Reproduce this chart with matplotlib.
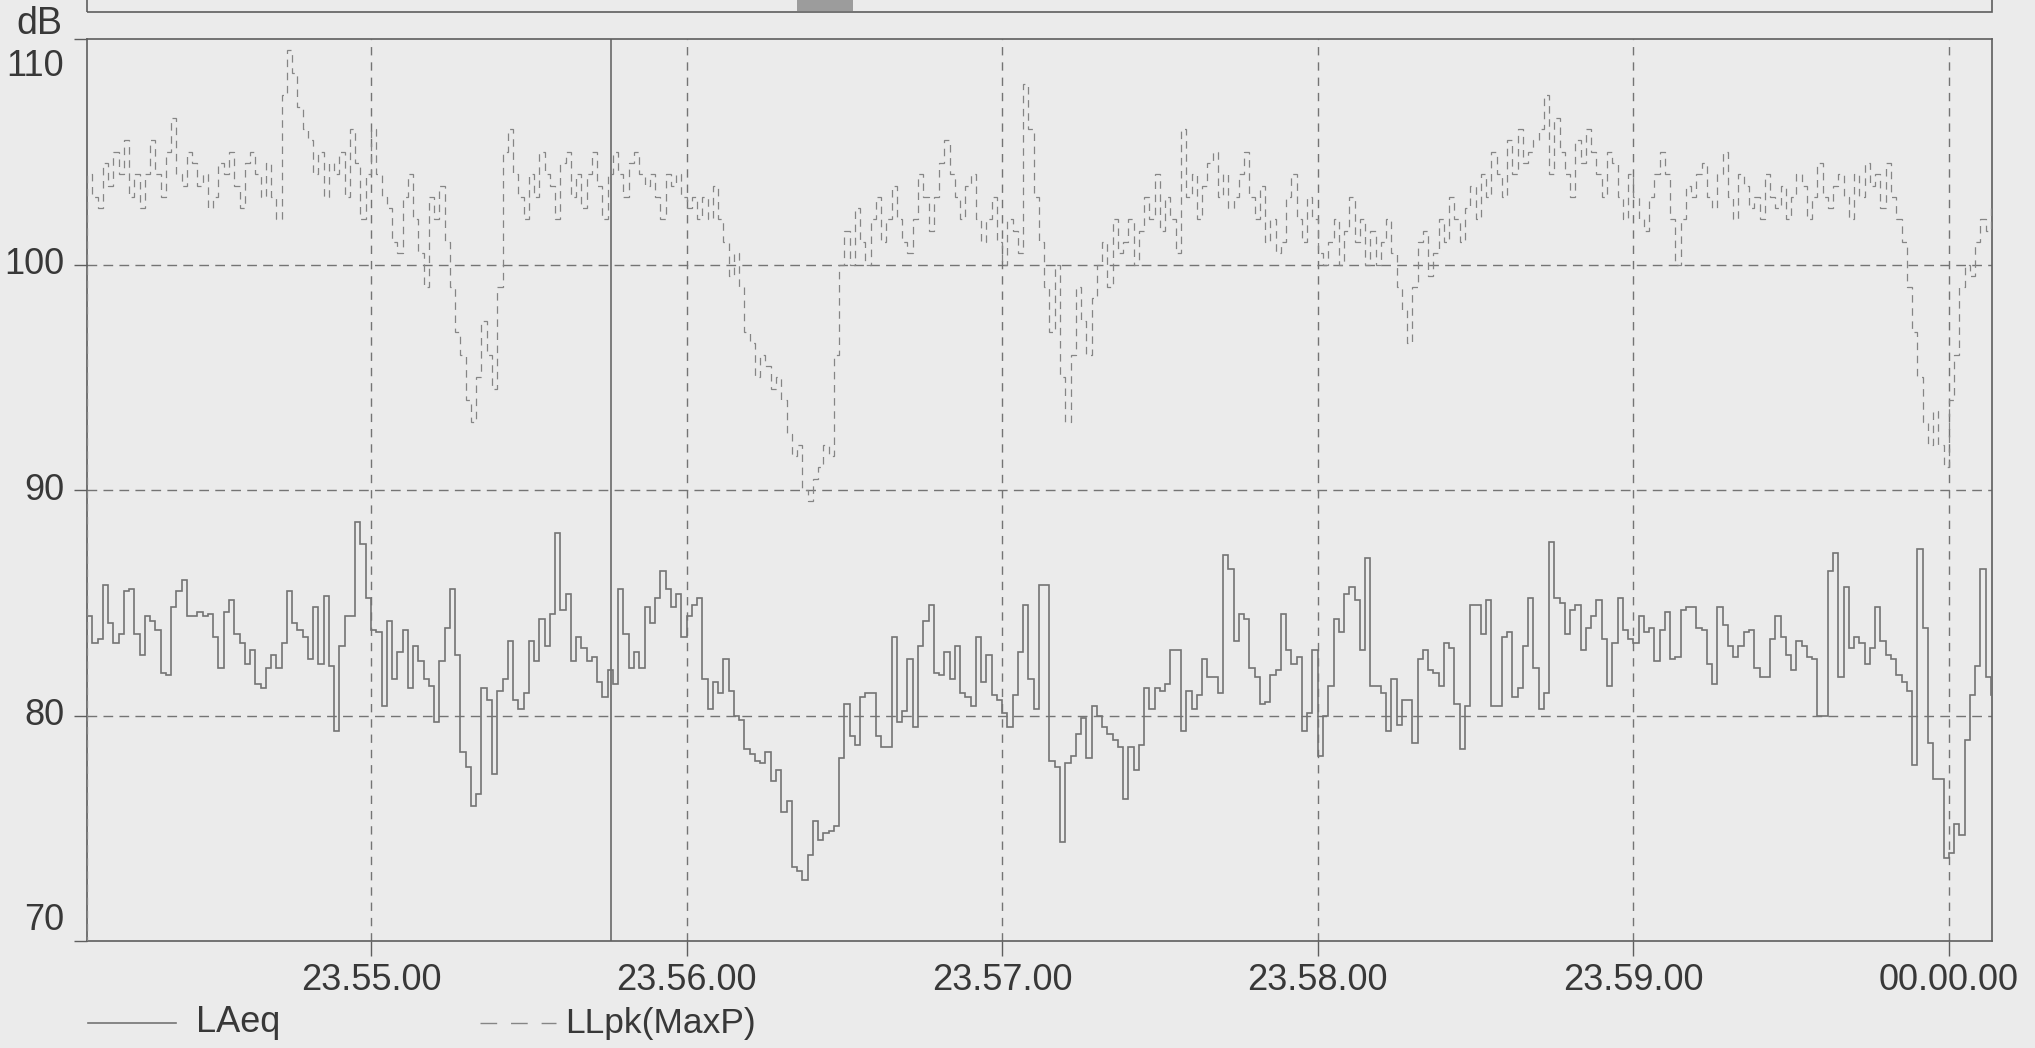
import numpy as np
import matplotlib.pyplot as plt
import matplotlib.transforms as mtransforms
from matplotlib.lines import Line2D
from matplotlib.patches import Rectangle

plt.rcParams['font.family'] = ['Liberation Sans', 'DejaVu Sans']

# one value per second, first sample at 23.54.06 (6 s after 23.54.00)
start_s = 6
end_s = 368.2

laeq = [
    84.4, 83.2, 83.4, 85.8, 84.1, 83.2, 83.6, 85.5, 85.6, 83.6,
    82.7, 84.4, 84.2, 83.8, 81.9, 81.8, 84.8, 85.5, 86.0, 84.4,
    84.4, 84.6, 84.4, 84.5, 83.5, 82.1, 84.6, 85.1, 83.6, 83.2,
    82.3, 82.9, 81.4, 81.2, 82.1, 82.7, 82.1, 83.2, 85.5, 84.1,
    83.8, 83.5, 82.5, 84.8, 82.3, 85.3, 82.2, 79.3, 83.1, 84.4,
    84.4, 88.6, 87.6, 85.2, 83.8, 83.7, 80.4, 84.2, 81.6, 82.8,
    83.8,
    81.2, 83.1, 82.4, 81.6, 81.3, 79.7, 82.4, 83.9, 85.6, 82.7,
    78.4, 77.7, 76.0, 76.5, 81.2, 80.7, 77.4, 81.1, 81.6, 83.3,
    80.7, 80.3, 81.0, 83.3, 82.4, 84.3, 83.1, 84.5, 88.1, 84.7,
    85.4, 82.4, 83.5, 83.0, 82.4, 82.6, 81.5, 80.8, 82.0, 81.4,
    85.6, 83.6, 82.1, 82.8, 82.1, 84.8, 84.1, 85.2, 86.4, 85.6,
    84.8, 85.4, 83.5, 84.4, 84.9, 85.2, 81.6, 80.3, 81.5, 81.0,
    82.5,
    81.1, 80.0, 79.8, 78.5, 78.3, 78.0, 77.9, 78.4, 77.1, 77.6,
    75.7, 76.2, 73.3, 73.1, 72.7, 73.8, 75.3, 74.5, 74.8, 74.9,
    75.1, 78.1, 80.5, 79.1, 78.7, 80.8, 81.0, 81.0, 79.1, 78.6,
    78.6, 83.5, 79.7, 80.2, 82.5, 79.5, 83.1, 84.2, 84.9, 81.9,
    81.8, 82.8, 81.6, 83.1, 81.0, 80.8, 80.4, 83.5, 81.5, 82.7,
    80.9, 80.7, 80.1, 79.5, 80.9, 82.8, 84.9, 81.6, 80.3, 85.8,
    85.8,
    78.0, 77.7, 74.4, 77.9, 78.2, 79.2, 79.9, 78.1, 80.4, 80.0,
    79.5, 79.2, 78.9, 78.6, 76.3, 78.6, 77.6, 78.7, 81.2, 80.3,
    81.2, 81.1, 81.4, 82.9, 82.9, 79.3, 81.1, 80.3, 80.9, 82.5,
    81.7, 81.7, 81.0, 87.1, 86.5, 83.3, 84.5, 84.3, 82.1, 81.7,
    80.5, 80.6, 81.8, 82.0, 84.5, 82.9, 82.3, 82.6, 79.3, 80.1,
    82.9, 78.2, 80.0, 81.3, 84.3, 83.7, 85.4, 85.7, 85.1, 82.9,
    87.0,
    81.3, 81.3, 81.0, 79.3, 81.6, 79.6, 80.7, 80.7, 78.8, 82.5,
    82.9, 82.0, 81.9, 81.3, 83.2, 83.0, 80.5, 78.5, 80.4, 84.9,
    84.9, 83.6, 85.1, 80.4, 80.4, 83.5, 83.7, 80.8, 81.2, 83.1,
    85.2, 82.1, 80.3, 81.0, 87.7, 85.2, 85.0, 83.6, 84.7, 84.9,
    82.9, 83.9, 84.4, 85.1, 83.4, 81.3, 83.2, 85.2, 83.8, 83.4,
    83.2, 84.4, 83.7, 83.9, 82.4, 83.8, 84.6, 82.5, 82.6, 84.7,
    84.8, 84.8, 83.9, 83.8, 82.3, 81.4, 84.8, 84.0, 83.1, 82.6,
    83.1, 83.7, 83.8, 82.1, 81.7, 81.7, 83.4, 84.4, 83.5, 82.7,
    82.0, 83.3, 83.1, 82.6, 82.5, 80.0, 80.0, 86.4, 87.2, 81.7,
    85.7, 83.0, 83.5, 83.2, 82.3, 83.0, 84.8, 83.3, 82.7, 82.5,
    81.8, 81.5, 81.1, 77.8, 87.4, 83.9, 78.8, 77.2, 77.2, 73.7,
    73.9, 75.2, 74.7, 78.9, 80.9, 82.2, 86.5, 81.7, 80.9,
]

llpk = [
    104, 103, 102.5, 104.5, 103.5, 105, 104, 105.5, 103, 104,
    102.5, 104, 105.5, 104, 103,
    105, 106.5, 104, 103.5, 105, 104.5, 103.5, 104, 102.5, 103,
    104.5, 104, 105, 103.5, 102.5, 104.5, 105, 104, 103,
    104.5, 103, 102, 107.5, 109.5, 108.5, 107,
    106, 105.5, 104, 105, 103, 104.5, 104,
    105, 103, 106, 104.5, 102, 104, 106, 104,
    103, 102.5, 101, 100.5, 103, 104, 102, 100.5, 99, 103, 102,
    103.5, 101, 99, 97, 96, 94, 93,
    95, 97.5, 96, 94.5, 99,
    105, 106, 104, 103,
    102, 104, 103, 105, 104, 103.5, 102, 104.5, 105, 103,
    104, 102.5, 104, 105, 103.5, 102, 104,
    105, 104, 103, 104.5, 105, 104, 103.5, 104, 103, 102,
    104, 103.5, 104, 103, 102.5, 103, 102,
    103, 102, 103.5, 102, 101, 99.5, 100.5, 99, 97, 96.5,
    95, 96, 95.5, 94.5, 95, 94, 92.5, 91.5, 92, 90,
    89.5, 90.5, 91, 92, 91.5, 96, 100,
    101.5, 100, 102.5, 101, 100, 102, 103,
    101, 102, 103.5, 102, 101, 100.5, 102, 104, 103, 101.5,
    103, 104.5, 105.5, 104, 103, 102, 103.5, 104, 102, 101,
    102, 103, 101, 100, 102, 101.5, 100.5, 108, 106, 103,
    101, 99, 97, 100,
    95, 93, 96, 99, 97.5, 96, 98.5, 100, 101, 99, 102, 100.5,
    101, 102, 100, 101.5, 103, 102, 104, 101.5, 103, 102,
    100.5, 106, 103, 104, 102, 103.5, 104.5, 105, 103,
    104, 102.5, 103, 104, 105, 103, 102, 103.5, 101, 102,
    100.5, 101, 103, 104, 102, 101, 103, 102, 100.5, 100, 101,
    102, 100, 101.5, 103, 101, 102, 100, 101.5, 100, 101,
    102, 100.5, 99, 98, 96.5, 99, 101, 101.5, 99.5, 100.5,
    102, 101, 103, 102, 101, 102.5, 103.5, 102, 104, 103,
    105, 104, 103, 105.5, 104, 106, 104.5, 105, 105.5, 106,
    107.5, 104, 106.5, 105, 104, 103, 105.5, 104.5, 106, 105,
    104, 103, 105, 104.5, 103, 102, 104, 103, 102, 101.5,
    103, 104, 105, 104, 102, 100, 102, 103.5, 103, 104,
    104.5, 103, 102.5, 104, 105, 103, 102, 104, 103.5, 102.5,
    103, 102, 104, 103, 102.5, 103.5, 102, 103, 104, 103.5,
    102, 103, 104.5, 103, 102.5, 103.5, 104, 103, 102, 104,
    103, 104.5, 103.5, 104,
    102.5, 104.5, 103, 102, 101, 99, 97, 95, 93, 92, 93.5, 92,
    91, 94, 96, 99, 100, 99.5, 101, 102, 101.5, 102.5,
]

tick_s = [60, 120, 180, 240, 300, 360]
tick_labels = ['23.55.00', '23.56.00', '23.57.00', '23.58.00', '23.59.00', '00.00.00']
y_ticks = [70, 80, 90, 100, 110]
y_grid = [80, 90, 100]
cursor_s = 105.6

bg = '#ebebeb'
ink = '#383838'
line_c = '#747474'
pk_c = '#858585'
frame_c = '#5e5e5e'

W, H = 2035, 1048
fig = plt.figure(figsize=(W / 100, H / 100), dpi=100, facecolor=bg)
ax_l, ax_r, ax_t, ax_b = 87, 1992, 39, 941
ax = fig.add_axes([ax_l / W, 1 - ax_b / H, (ax_r - ax_l) / W, (ax_b - ax_t) / H])
ax.set_facecolor(bg)

# grid
for y in y_grid:
    ax.axhline(y, color=line_c, lw=1.0, ls=(0, (7, 4.5)), zorder=1)
for x in tick_s:
    ax.axvline(x, color=line_c, lw=1.0, ls=(0, (6, 5)), zorder=1)
ax.axvline(cursor_s, color=frame_c, lw=1.1, zorder=1)

t_eq = start_s + np.arange(len(laeq) + 1)
ax.stairs(laeq, t_eq, color=line_c, lw=1.2, zorder=3)
t_pk = start_s + np.arange(len(llpk) + 1)
ax.stairs(llpk, t_pk, color=pk_c, lw=0.9, ls=(0, (6, 4.5)), zorder=3)

ax.set_xlim(start_s, end_s)
ax.set_ylim(70, 110)

for s in ax.spines.values():
    s.set_color(frame_c)
    s.set_linewidth(1.2)

ax.set_xticks(tick_s)
ax.set_xticklabels(tick_labels)
ax.tick_params(axis='x', length=11, width=1.0, color=frame_c, pad=5,
               labelsize=26, labelcolor=ink)
ax.set_yticks(y_ticks)
ax.set_yticklabels([])
ax.tick_params(axis='y', length=9.5, width=1.0, color=frame_c)

# y labels (top and bottom ones sit inside the range)
ytr = mtransforms.blended_transform_factory(fig.transFigure, ax.transData)
label_pos = {110: 108.8, 100: 100, 90: 90, 80: 80, 70: 70.9}
for v in y_ticks:
    fig.text(64 / W, label_pos[v], str(v), transform=ytr, ha='right', va='center',
             fontsize=26, color=ink)
fig.text(16 / W, 1 - 24 / H, 'dB', ha='left', va='center', fontsize=27, color=ink)

# strip of the panel above
fig.add_artist(Rectangle((ax_l / W, 1 - 12 / H), (ax_r - ax_l) / W, 20 / H,
                         transform=fig.transFigure, fill=False, ec=frame_c, lw=1.2))
fig.add_artist(Rectangle((797 / W, 1 - 11 / H), 56 / W, 11 / H,
                         transform=fig.transFigure, fc='#9c9c9c', ec='none'))

# legend
ly = 1 - 1023 / H
fig.add_artist(Line2D([88 / W, 176 / W], [ly, ly], color=line_c, lw=1.2))
fig.text(196 / W, ly, 'LAeq', ha='left', va='center', fontsize=26, color=ink)
fig.add_artist(Line2D([480 / W, 556 / W], [ly, ly], color=pk_c, lw=1.0,
                      ls=(0, (12, 10))))
fig.text(565 / W, ly, 'LLpk(MaxP)', ha='left', va='center', fontsize=25.5, color=ink)

fig.savefig('out.png', dpi=100, facecolor=bg)
